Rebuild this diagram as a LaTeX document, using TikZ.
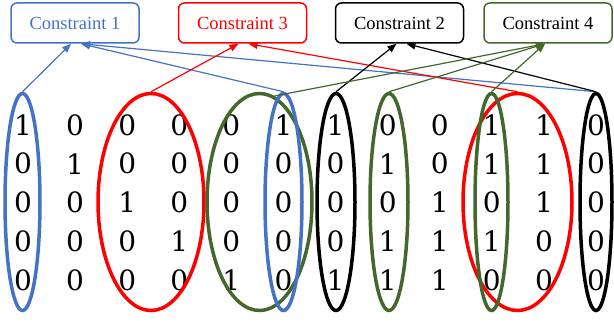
\documentclass[tikz,border=0pt]{standalone}
\usepackage{fontspec}
\setmainfont{Liberation Serif}
\newfontfamily\digitfont{DejaVu Serif}
\usetikzlibrary{shapes.geometric,arrows.meta}

\definecolor{cblue}{RGB}{68,114,196}
\definecolor{cred}{RGB}{255,0,0}
\definecolor{cgreen}{RGB}{67,104,43}

\tikzset{every picture/.style={line width=0.75pt}}
\tikzset{
  cbox/.style={draw, rounded corners=6, line width=1.5, minimum width=128, minimum height=40, inner sep=0, font=\fontsize{18.5}{21}\selectfont},
  ring/.style={draw, ellipse, line width=3.5, inner sep=0, minimum height=217},
  link/.style={line width=1.2, -{Triangle[length=9,width=7]}},
  entry/.style={font=\digitfont\fontsize{28}{30}\selectfont, inner sep=0}
}

\begin{document}
\begin{tikzpicture}[x=1pt,y=1pt,yscale=-1,xscale=1]
        \useasboundingbox (0,0) rectangle (614,323);

        %Constraint boxes
        \node[cbox, cblue] (c1) at (75,23) {Constraint 1};
        \node[cbox, cred] (c3) at (242.5,23) {Constraint 3};
        \node[cbox, black] (c2) at (399.5,23) {Constraint 2};
        \node[cbox, cgreen, text=black] (c4) at (548,23) {Constraint 4};

        %Matrix entries
        \foreach \row [count=\i] in {{1,0,0,0,0,1,1,0,0,1,1,0},{0,1,0,0,0,0,0,1,0,1,1,0},{0,0,1,0,0,0,0,0,1,0,1,0},{0,0,0,1,0,0,0,1,1,1,0,0},{0,0,0,0,1,0,1,1,1,0,0,0}}{
          \foreach \v [count=\j] in \row {
            \node[entry] (m-\i-\j) at ({23+52.1*(\j-1)},{125+38.75*(\i-1)}) {\v};
          }
        }

        %Column groups
        \node[ring, cblue, minimum width=35] (b1) at (22.5,202) {};
        \node[ring, cred, minimum width=106] (r1) at (151,202) {};
        \node[ring, cgreen, minimum width=105] (g1) at (259.5,202) {};
        \node[ring, cblue, minimum width=37] (b2) at (283.5,202) {};
        \node[ring, black, minimum width=38] (k1) at (336,202) {};
        \node[ring, cgreen, minimum width=38] (g2) at (389,202) {};
        \node[ring, cred, minimum width=109] (r2) at (517.5,202) {};
        \node[ring, cgreen, minimum width=33] (g3) at (491.5,202) {};
        \node[ring, black, minimum width=32] (k2) at (596,202) {};

        %Links to the constraints
        \draw[link, cblue] (b1.north) -- ([xshift=-4]c1.south);
        \draw[link, cblue] (b2.north) -- ([xshift=6]c1.south);
        \draw[link, cblue] (k2.north) -- ([xshift=6]c1.south);
        \draw[link, cred] (r1.north) -- ([xshift=-4]c3.south);
        \draw[link, cred] (r2.north) -- ([xshift=6]c3.south);
        \draw[link, black] (k1.north) -- ([xshift=-3]c2.south);
        \draw[link, black] (k2.north) -- ([xshift=7]c2.south);
        \draw[link, cgreen] (g1.82) -- ([xshift=-3]c4.south);
        \draw[link, cgreen] (g2.north) -- ([xshift=-3]c4.south);
        \draw[link, cgreen] (g3.north) -- ([xshift=-3]c4.south);
\end{tikzpicture}
\end{document}
